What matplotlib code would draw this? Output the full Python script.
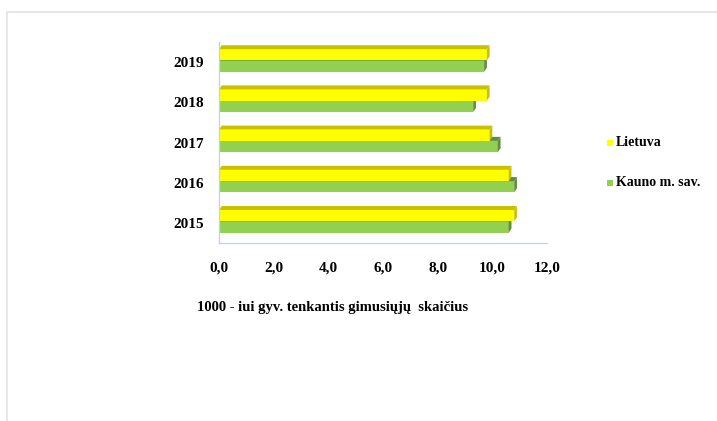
import numpy as np
import matplotlib
matplotlib.use("Agg")
import matplotlib.pyplot as plt
from matplotlib.patches import Polygon, Rectangle

years = ["2015", "2016", "2017", "2018", "2019"]
lietuva = [10.8, 10.6, 9.9, 9.8, 9.8]
kaunas = [10.6, 10.8, 10.2, 9.3, 9.7]
xticks = [0, 2, 4, 6, 8, 10, 12]
xlabel = "1000 - iui gyv. tenkantis gimusiųjų  skaičius"

YELLOW = "#ffff00"
YELLOW_DARK = "#c9c100"
GREEN = "#92d050"
GREEN_DARK = "#5e8f36"
AXIS_COL = "#c5d3e6"

H = 0.28     # bar thickness
DX = 0.1     # depth of the fake 3d faces (x units)
DY = 0.1     # depth of the fake 3d faces (y units)

plt.rcParams["font.family"] = ["Liberation Serif", "DejaVu Serif"]
plt.rcParams["font.weight"] = "bold"

W, Hpx = 717, 421
fig = plt.figure(figsize=(W / 100, Hpx / 100), dpi=100)
ax = fig.add_axes([219 / W, 1 - 243 / Hpx, (547 - 219) / W, (243 - 42) / Hpx])


def bar3d(ax, y0, val, face, dark):
    # front face
    ax.barh(y0 + H / 2, val, height=H, color=face, edgecolor="none", zorder=2)
    # top face
    top = [(0, y0 + H), (val, y0 + H), (val + DX, y0 + H + DY), (DX, y0 + H + DY)]
    ax.add_patch(Polygon(top, closed=True, facecolor=dark, edgecolor="none", zorder=2))
    # side face
    side = [(val, y0), (val, y0 + H), (val + DX, y0 + H + DY), (val + DX, y0 + DY)]
    ax.add_patch(Polygon(side, closed=True, facecolor=dark, edgecolor="none", zorder=2))


ypos = np.arange(len(years))
for i in range(len(years)):
    bar3d(ax, ypos[i] - H + 0.04, kaunas[i], GREEN, GREEN_DARK)
    bar3d(ax, ypos[i] + 0.04, lietuva[i], YELLOW, YELLOW_DARK)

ax.set_xlim(0, 12)
ax.set_ylim(-0.5, 4.5)
ax.set_xticks(xticks)
ax.xaxis.set_major_formatter(plt.FuncFormatter(lambda v, p: ("%.1f" % v).replace(".", ",")))
ax.set_yticks(ypos)
ax.set_yticklabels(years)
ax.tick_params(axis="both", length=0, labelsize=11)
ax.tick_params(axis="x", pad=13)
ax.tick_params(axis="y", pad=11)
for lab in ax.get_xticklabels() + ax.get_yticklabels():
    lab.set_fontweight("bold")

for s in ["top", "right"]:
    ax.spines[s].set_visible(False)
for s in ["left", "bottom"]:
    ax.spines[s].set_color(AXIS_COL)
    ax.spines[s].set_linewidth(1.0)

fig.text(197 / W, 1 - 307 / Hpx, xlabel, fontsize=10.5, fontweight="bold",
         ha="left", va="center")

# legend
legend_items = [("Lietuva", YELLOW, 143), ("Kauno m. sav.", GREEN, 183)]
for name, col, yc in legend_items:
    fig.add_artist(Rectangle((607 / W, 1 - (yc + 3) / Hpx), 6 / W, 6 / Hpx,
                             transform=fig.transFigure, facecolor=col, edgecolor="none"))
    fig.text(616 / W, 1 - yc / Hpx, name, fontsize=10, fontweight="bold",
             ha="left", va="center")

# outer chart frame
fig.add_artist(Rectangle((7 / W, -0.05), 1.0, 1 - 12 / Hpx + 0.05,
                         transform=fig.transFigure, facecolor="none",
                         edgecolor="#dfe3e8", linewidth=1.2))

fig.savefig("out.png", dpi=100)
